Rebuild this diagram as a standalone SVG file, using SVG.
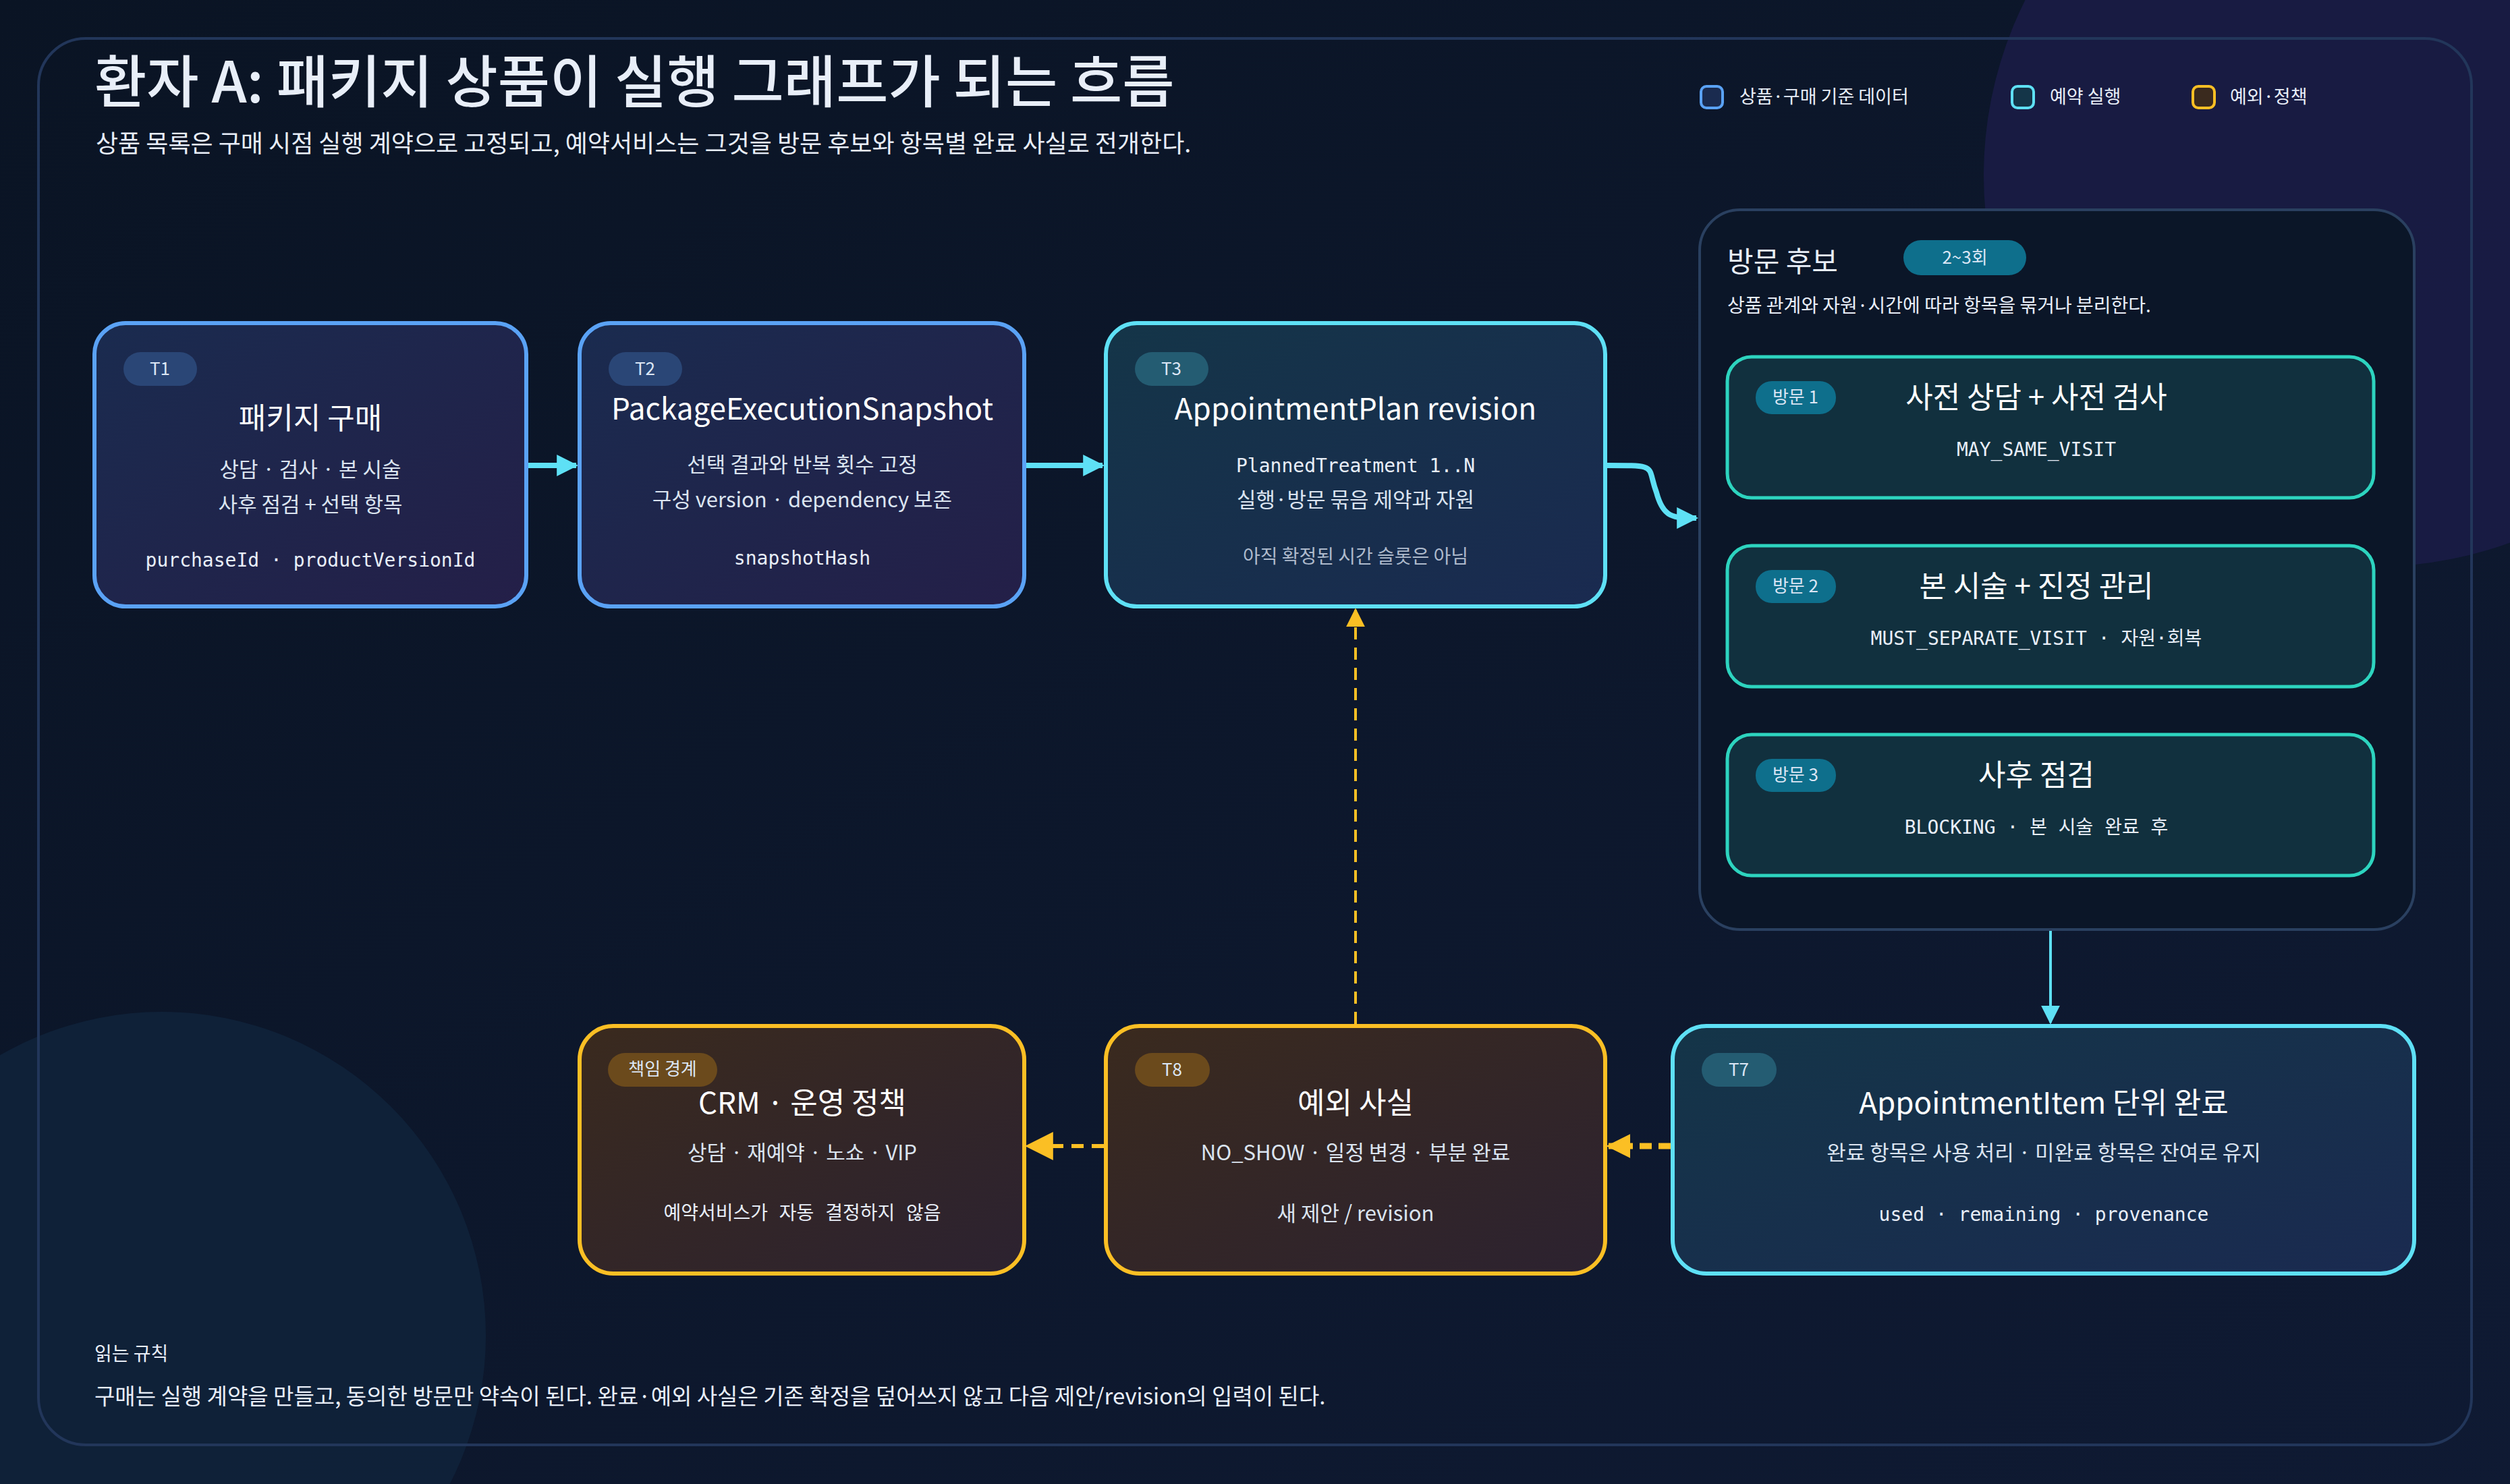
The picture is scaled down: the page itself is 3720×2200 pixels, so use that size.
<svg xmlns="http://www.w3.org/2000/svg" width="3720" height="2200" viewBox="0 0 3720 2200">
<defs>
<linearGradient id="bg" x1="0" y1="0" x2="1" y2="1"><stop offset="0" stop-color="#0a1424"/><stop offset="1" stop-color="#0f1a33"/></linearGradient>
<linearGradient id="gBlue" x1="0" y1="0" x2="1" y2="1"><stop offset="0" stop-color="#1a2b4f"/><stop offset="1" stop-color="#241f48"/></linearGradient>
<linearGradient id="gCyan" x1="0" y1="0" x2="1" y2="1"><stop offset="0" stop-color="#143548"/><stop offset="1" stop-color="#1a2a50"/></linearGradient>
<linearGradient id="gOr" x1="0" y1="0" x2="1" y2="1"><stop offset="0" stop-color="#3a2a1e"/><stop offset="1" stop-color="#2c2230"/></linearGradient>
<marker id="aC" viewBox="0 0 10 10" refX="9" refY="5" markerWidth="4" markerHeight="4" orient="auto"><path d="M0,0L10,5L0,10z" fill="#5ee0f5"/></marker>
<marker id="aCs" viewBox="0 0 10 10" refX="9" refY="5" markerWidth="7" markerHeight="7" orient="auto"><path d="M0,0L10,5L0,10z" fill="#5ee0f5"/></marker>
<marker id="aO" viewBox="0 0 10 10" refX="9" refY="5" markerWidth="4" markerHeight="4" orient="auto"><path d="M0,0L10,5L0,10z" fill="#fbbf24"/></marker>
<marker id="aOs" viewBox="0 0 10 10" refX="9" refY="5" markerWidth="7" markerHeight="7" orient="auto"><path d="M0,0L10,5L0,10z" fill="#fbbf24"/></marker>
</defs>
<style>
text{font-family:"Noto Sans CJK KR","Noto Sans",sans-serif;fill:#e8eef8}
.mono{font-family:"DejaVu Sans Mono","Noto Sans CJK KR",monospace;font-size:28px;fill:#e8eef8}
.t{font-size:44px;text-anchor:middle;fill:#ffffff}
.l{font-size:31px;text-anchor:middle;fill:#dbe4f0}
.s{font-size:28px;text-anchor:middle;fill:#aebacc}
.pill{font-size:26px;text-anchor:middle;fill:#dbe6f5}
.blue{fill:url(#gBlue);stroke:#5aa2f5;stroke-width:6}
.cyan{fill:url(#gCyan);stroke:#5ee0f5;stroke-width:6}
.or{fill:url(#gOr);stroke:#fbbf24;stroke-width:6}
.visit{fill:#11303e;stroke:#2dd4bf;stroke-width:5}
</style>
<rect width="3720" height="2200" fill="url(#bg)"/>
<circle cx="3520" cy="260" r="580" fill="#1b1d48" opacity="0.8"/>
<circle cx="240" cy="1980" r="480" fill="#10243c" opacity="0.8"/>
<rect x="57" y="57" width="3606" height="2085" rx="70" fill="none" stroke="#22365a" stroke-width="4"/>

<g id="header">
<text x="140" y="152" font-size="84" font-weight="500" fill="#fff">환자 A: 패키지 상품이 실행 그래프가 되는 흐름</text>
<text x="142" y="226" font-size="36" fill="#b8c4d6">상품 목록은 구매 시점 실행 계약으로 고정되고, 예약서비스는 그것을 방문 후보와 항목별 완료 사실로 전개한다.</text>
</g>
<g id="legend">
<rect x="2521" y="128" width="32" height="32" rx="8" fill="#1a2b4f" stroke="#5aa2f5" stroke-width="4"/>
<text x="2578" y="153" font-size="27" fill="#c6d0de">상품·구매 기준 데이터</text>
<rect x="2982" y="128" width="32" height="32" rx="8" fill="#143548" stroke="#5ee0f5" stroke-width="4"/>
<text x="3038" y="153" font-size="27" fill="#c6d0de">예약 실행</text>
<rect x="3250" y="128" width="32" height="32" rx="8" fill="#3a2a1e" stroke="#fbbf24" stroke-width="4"/>
<text x="3305" y="153" font-size="27" fill="#c6d0de">예외·정책</text>
</g>

<g id="connectors" fill="none">
<path d="M783,690H854" stroke="#5ee0f5" stroke-width="8" marker-end="url(#aC)"/>
<path d="M1521,690H1634" stroke="#5ee0f5" stroke-width="8" marker-end="url(#aC)"/>
<path d="M2382,690C2460,690 2440,690 2455,730C2465,768 2480,768 2514,768" stroke="#5ee0f5" stroke-width="8" marker-end="url(#aC)"/>
<path d="M3039,740V805" stroke="#5ee0f5" stroke-width="4" marker-end="url(#aCs)"/>
<path d="M3039,1020V1085" stroke="#5ee0f5" stroke-width="4" marker-end="url(#aCs)"/>
<path d="M3039,1380V1516" stroke="#5ee0f5" stroke-width="4" marker-end="url(#aCs)"/>
<path d="M2476,1699H2384" stroke="#fbbf24" stroke-width="9" stroke-dasharray="18 10" marker-end="url(#aO)"/>
<path d="M1636,1699H1523" stroke="#fbbf24" stroke-width="6" stroke-dasharray="18 12" marker-end="url(#aOs)"/>
<path d="M2009,1518V904" stroke="#fbbf24" stroke-width="4" stroke-dasharray="18 12" marker-end="url(#aOs)"/>
</g>

<g id="T1">
<rect class="blue" x="140" y="479" width="640" height="420" rx="46"/>
<rect x="183" y="522" width="109" height="50" rx="25" fill="#2a4676"/>
<text class="pill" x="237" y="556">T1</text>
<text class="t" x="460" y="636">패키지 구매</text>
<text class="l" x="460" y="707">상담 · 검사 · 본 시술</text>
<text class="l" x="460" y="759">사후 점검 + 선택 항목</text>
<text class="mono" x="460" y="840" text-anchor="middle">purchaseId · productVersionId</text>
</g>
<g id="T2">
<rect class="blue" x="859" y="479" width="659" height="420" rx="46"/>
<rect x="902" y="522" width="109" height="50" rx="25" fill="#2a4676"/>
<text class="pill" x="956" y="556">T2</text>
<text class="t" x="1189" y="622" font-size="47">PackageExecutionSnapshot</text>
<text class="l" x="1189" y="700">선택 결과와 반복 횟수 고정</text>
<text class="l" x="1189" y="752">구성 version · dependency 보존</text>
<text class="mono" x="1189" y="837" text-anchor="middle">snapshotHash</text>
</g>
<g id="T3">
<rect class="cyan" x="1639" y="479" width="740" height="420" rx="46"/>
<rect x="1682" y="522" width="109" height="50" rx="25" fill="#245c72"/>
<text class="pill" x="1736" y="556">T3</text>
<text class="t" x="2009" y="622" font-size="47">AppointmentPlan revision</text>
<text class="mono" x="2009" y="700" text-anchor="middle">PlannedTreatment 1..N</text>
<text class="l" x="2009" y="752">실행·방문 묶음 제약과 자원</text>
<text class="s" x="2009" y="835">아직 확정된 시간 슬롯은 아님</text>
</g>

<g id="visitGroup">
<rect x="2519" y="311" width="1059" height="1067" rx="60" fill="#0b1628" stroke="#2a4060" stroke-width="4"/>
<text x="2560" y="403" font-size="42" fill="#fff">방문 후보</text>
<rect x="2821" y="356" width="182" height="52" rx="26" fill="#0e6f8c"/>
<text class="pill" x="2912" y="391">2~3회</text>
<text x="2560" y="463" font-size="28" fill="#aebacc">상품 관계와 자원·시간에 따라 항목을 묶거나 분리한다.</text>
</g>
<g id="visit1">
<rect class="visit" x="2560" y="529" width="958" height="209" rx="36"/>
<rect x="2602" y="565" width="119" height="49" rx="24" fill="#0e6f8c"/>
<text class="pill" x="2661" y="598">방문 1</text>
<text class="t" x="3018" y="605">사전 상담 + 사전 검사</text>
<text class="mono" x="3018" y="676" text-anchor="middle">MAY_SAME_VISIT</text>
</g>
<g id="visit2">
<rect class="visit" x="2560" y="809" width="958" height="209" rx="36"/>
<rect x="2602" y="845" width="119" height="49" rx="24" fill="#0e6f8c"/>
<text class="pill" x="2661" y="878">방문 2</text>
<text class="t" x="3018" y="885">본 시술 + 진정 관리</text>
<text class="mono" x="3018" y="956" text-anchor="middle">MUST_SEPARATE_VISIT · 자원·회복</text>
</g>
<g id="visit3">
<rect class="visit" x="2560" y="1089" width="958" height="209" rx="36"/>
<rect x="2602" y="1125" width="119" height="49" rx="24" fill="#0e6f8c"/>
<text class="pill" x="2661" y="1158">방문 3</text>
<text class="t" x="3018" y="1165">사후 점검</text>
<text class="mono" x="3018" y="1236" text-anchor="middle">BLOCKING · 본 시술 완료 후</text>
</g>

<g id="T7">
<rect class="cyan" x="2479" y="1521" width="1099" height="367" rx="50"/>
<rect x="2522" y="1561" width="111" height="50" rx="25" fill="#245c72"/>
<text class="pill" x="2577" y="1595">T7</text>
<text class="t" x="3029" y="1651" font-size="45">AppointmentItem 단위 완료</text>
<text class="l" x="3029" y="1720">완료 항목은 사용 처리 · 미완료 항목은 잔여로 유지</text>
<text class="mono" x="3029" y="1810" text-anchor="middle">used · remaining · provenance</text>
</g>
<g id="T8">
<rect class="or" x="1639" y="1521" width="740" height="367" rx="50"/>
<rect x="1682" y="1561" width="111" height="50" rx="25" fill="#6b4a1c"/>
<text class="pill" x="1737" y="1595">T8</text>
<text class="t" x="2009" y="1651">예외 사실</text>
<text class="l" x="2009" y="1720">NO_SHOW · 일정 변경 · 부분 완료</text>
<text class="l" x="2009" y="1810">새 제안 / revision</text>
</g>
<g id="CRM">
<rect class="or" x="859" y="1521" width="659" height="367" rx="50"/>
<rect x="901" y="1561" width="162" height="50" rx="25" fill="#6b4a1c"/>
<text class="pill" x="982" y="1594" font-size="24">책임 경계</text>
<text class="t" x="1189" y="1651">CRM · 운영 정책</text>
<text class="l" x="1189" y="1720">상담 · 재예약 · 노쇼 · VIP</text>
<text class="mono" x="1189" y="1808" text-anchor="middle">예약서비스가 자동 결정하지 않음</text>
</g>

<g id="footer">
<text x="140" y="2017" font-size="28" fill="#aebacc">읽는 규칙</text>
<text x="140" y="2082" font-size="33" fill="#e8eef8">구매는 실행 계약을 만들고, 동의한 방문만 약속이 된다. 완료·예외 사실은 기존 확정을 덮어쓰지 않고 다음 제안/revision의 입력이 된다.</text>
</g>
</svg>
